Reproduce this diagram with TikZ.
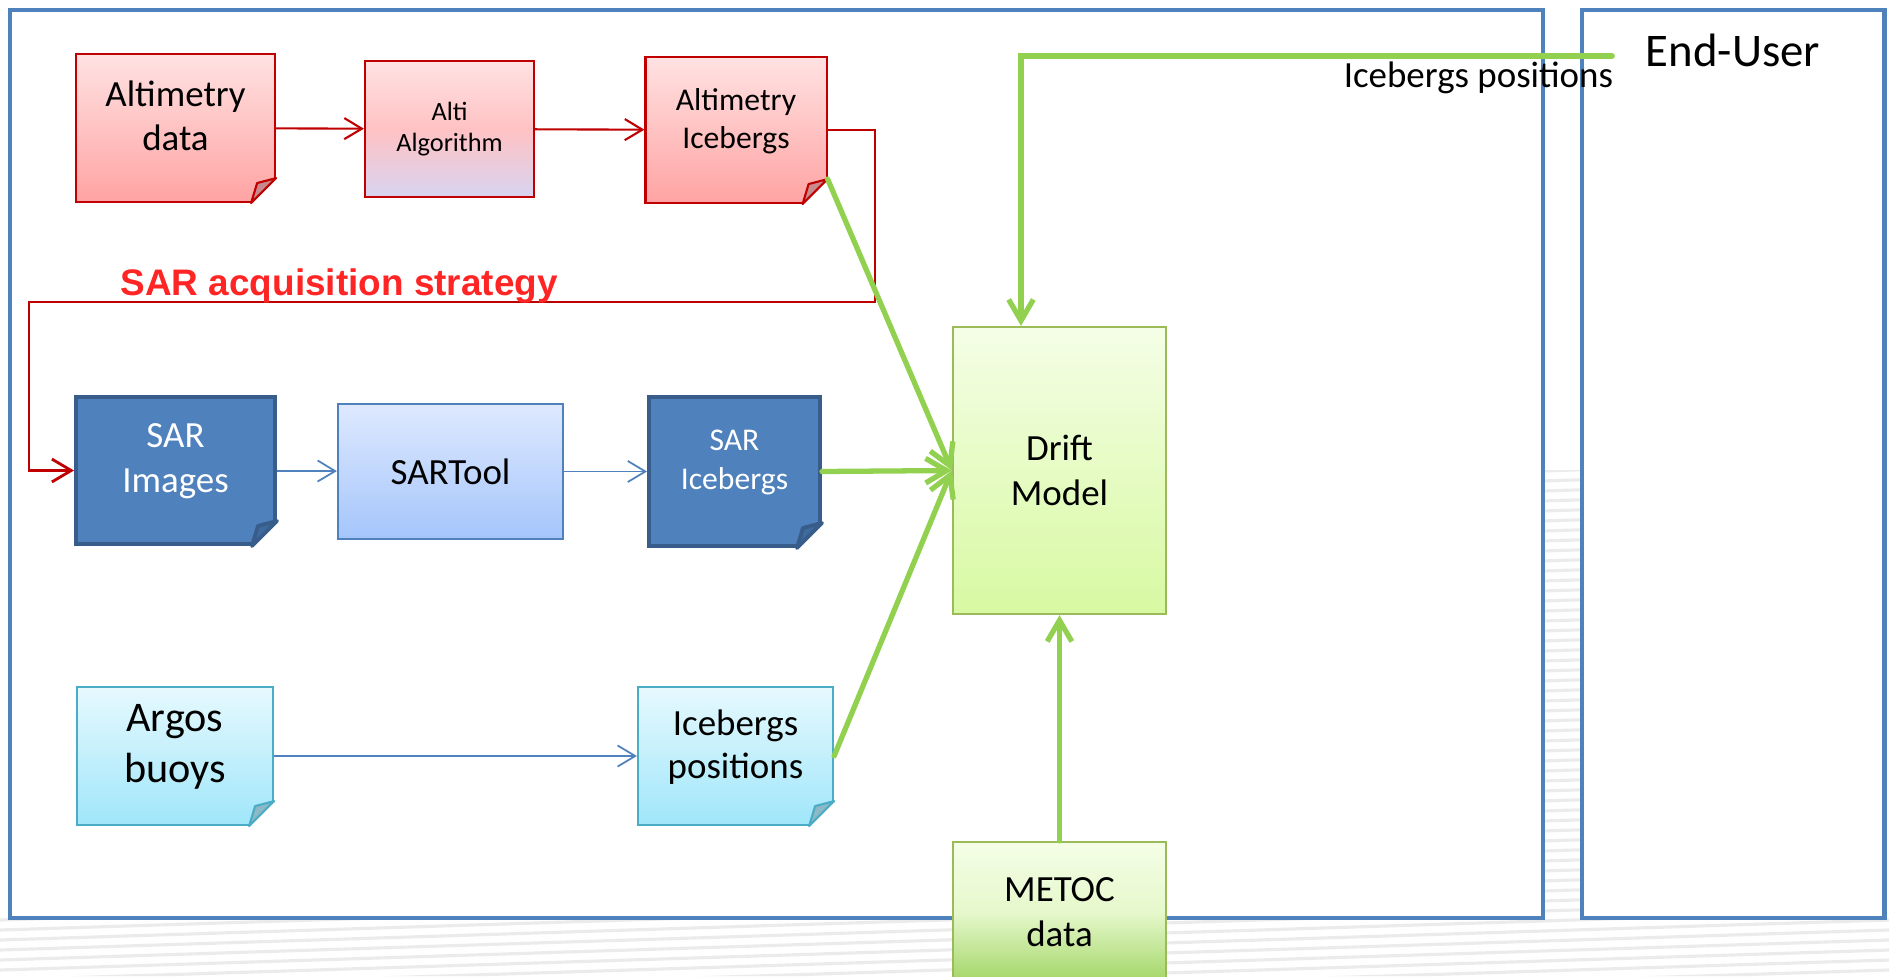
\documentclass[tikz,border=0pt]{standalone}
\usepackage{fontspec}
\setmainfont{Carlito}
\newfontfamily\stratfont{Liberation Sans}
\usetikzlibrary{arrows.meta}

\definecolor{frameblue}{HTML}{4F81BD}
\definecolor{darkred}{HTML}{C00000}
\definecolor{stratred}{HTML}{FF2525}
\definecolor{pinktop}{HTML}{FFE2E2}
\definecolor{pinkbot}{HTML}{FFA3A3}
\definecolor{pinkmid}{HTML}{FFC2C4}
\definecolor{lavender}{HTML}{D8D4F0}
\definecolor{foldred}{HTML}{C98A8E}
\definecolor{sarborder}{HTML}{385D8A}
\definecolor{foldblue}{HTML}{3E6B9E}
\definecolor{tooltop}{HTML}{DEE9FF}
\definecolor{toolbot}{HTML}{A5C5FB}
\definecolor{cyantop}{HTML}{E6F9FE}
\definecolor{cyanbot}{HTML}{A0E6FA}
\definecolor{cyanborder}{HTML}{4BACC6}
\definecolor{foldcyan}{HTML}{8DB9C7}
\definecolor{greenline}{HTML}{92D050}
\definecolor{greenborder}{HTML}{9BBB59}
\definecolor{greentop}{HTML}{F4FEE6}
\definecolor{greenbot}{HTML}{D8F9A2}
\definecolor{metocmid}{HTML}{E6F8CC}
\definecolor{metocbot}{HTML}{A3D667}

% folded corner of a document box
\newcommand{\docfold}[4][0.6pt]{%
  \fill[white] ([xshift=0.05cm,yshift=0.25cm]#2.south east) -- ([yshift=0.25cm]#2.south east)
    -- ([xshift=-0.25cm]#2.south east) -- ([xshift=-0.25cm,yshift=-0.05cm]#2.south east)
    -- ([xshift=0.05cm,yshift=-0.05cm]#2.south east) -- cycle;
  \filldraw[draw=#3, fill=#4, line width=#1, line join=round] ([yshift=0.25cm]#2.south east)
    -- ([xshift=-0.25cm]#2.south east) -- ([xshift=-0.19cm,yshift=0.2cm]#2.south east) -- cycle;
}

\tikzset{
  frame/.style={draw=frameblue, line width=1.4pt},
  stripe/.style={gray!16, line width=0.9pt},
  reddoc/.style={draw=darkred, line width=0.6pt, top color=pinktop, bottom color=pinkbot},
  algobox/.style={draw=darkred, line width=0.6pt, top color=pinktop, bottom color=lavender, middle color=pinkmid, align=center},
  sardoc/.style={draw=sarborder, line width=1.1pt, fill=frameblue},
  toolbox/.style={draw=frameblue, line width=0.6pt, top color=tooltop, bottom color=toolbot},
  cyandoc/.style={draw=cyanborder, line width=0.6pt, top color=cyantop, bottom color=cyanbot},
  greenbox/.style={draw=greenborder, line width=0.6pt, top color=greentop, bottom color=greenbot, align=center, font=\fontsize{10.5}{12.8}\selectfont},
  doctext/.style={align=center, yshift=#1},
  doctext/.default=0.09cm,
  redarrow/.style={draw=darkred, line width=0.6pt, -{Straight Barb[length=5pt,width=6pt]}},
  redline/.style={draw=darkred, line width=0.8pt, -{Straight Barb[length=5.5pt,width=6.5pt]}},
  bluearrow/.style={draw=frameblue, line width=0.5pt, -{Straight Barb[length=5pt,width=6pt]}},
  greenarrow/.style={draw=greenline, line width=1.5pt, line cap=round, -{Straight Barb[length=6pt,width=7pt]}},
  strattext/.style={text=stratred, inner sep=0pt, font=\stratfont\bfseries\fontsize{10.5}{12}\selectfont},
}

\begin{document}
\begin{tikzpicture}[x=0.01cm, y=-0.01cm]
    \useasboundingbox (0,0) rectangle (1889,976);

    % background of the slide
    \begin{scope}
        \clip (0,918) rectangle (1889,976) (1543,470) rectangle (1582,918);
        \foreach \k in {0,...,60}
            \draw[stripe] (0,480+10*\k) -- (1889,420+10*\k);
    \end{scope}

    \draw[frame] (10,10) rectangle (1543,918);
    \draw[frame] (1582,10) rectangle (1884,918);

    % altimetry chain
    \node[reddoc, minimum width=1.99cm, minimum height=1.48cm, label={[doctext=0.125cm, font=\fontsize{10.5}{12.5}\selectfont]center:Altimetry\\data}] (altdata) at (175.5,128) {};
    \node[algobox, minimum width=1.69cm, minimum height=1.36cm, font=\fontsize{7.5}{9}\selectfont] (altalgo) at (449.5,129) {Alti\\Algorithm};
    \node[reddoc, minimum width=1.81cm, minimum height=1.46cm, label={[doctext, font=\fontsize{9}{10.8}\selectfont]center:Altimetry\\Icebergs}] (altice) at (736,130) {};

    % SAR chain
    \node[sardoc, minimum width=1.99cm, minimum height=1.47cm, label={[doctext, text=white, font=\fontsize{10.5}{12.8}\selectfont]center:SAR\\Images}] (sarimg) at (175.5,470.5) {};
    \node[toolbox, minimum width=2.25cm, minimum height=1.35cm, font=\fontsize{10.5}{12.5}\selectfont] (sartool) at (450.5,471.5) {SARTool};
    \node[sardoc, minimum width=1.71cm, minimum height=1.49cm, label={[doctext, text=white, font=\fontsize{9}{10.9}\selectfont]center:SAR\\Icebergs}] (sarice) at (734.5,471.5) {};

    % buoys chain
    \node[cyandoc, minimum width=1.96cm, minimum height=1.38cm, label={[doctext, font=\fontsize{12}{14.5}\selectfont]center:Argos\\buoys}] (argos) at (175,756) {};
    \node[cyandoc, minimum width=1.95cm, minimum height=1.38cm, label={[doctext, font=\fontsize{10.5}{12.3}\selectfont]center:Icebergs\\positions}] (icepos) at (735.5,756) {};

    \node[greenbox, minimum width=2.13cm, minimum height=2.87cm] (drift) at (1059.5,470.5) {Drift\\Model};
    \node[greenbox, bottom color=metocbot, middle color=metocmid, minimum width=2.13cm, minimum height=1.40cm] (metoc) at (1059.5,912) {METOC\\data};

    \node[font=\fontsize{13.3}{16}\selectfont, inner xsep=0.33cm] (enduser) at (1733,50) {End-User};

    \docfold{altdata}{darkred}{foldred}
    \docfold{altice}{darkred}{foldred}
    \docfold[1.1pt]{sarimg}{sarborder}{foldblue}
    \docfold[1.1pt]{sarice}{sarborder}{foldblue}
    \docfold{argos}{cyanborder}{foldcyan}
    \docfold{icepos}{cyanborder}{foldcyan}

    \draw[redarrow] (altdata) -- (altalgo);
    \draw[redarrow] (altalgo) -- (altice);

    \coordinate (turnR) at (875,302);
    \coordinate (turnL) at (29,302);
    \draw[redline] (altice.east) -| (turnR) -- (turnL) |- (sarimg.west);
    \node[strattext, anchor=base west] (strat) at (120,295) {SAR acquisition strategy};

    \draw[bluearrow] (sarimg) -- (sartool);
    \draw[bluearrow] (sartool) -- (sarice);
    \draw[bluearrow] (argos) -- (icepos);

    \draw[greenarrow] ([yshift=0.25cm]altice.south east) -- (drift.west);
    \draw[greenarrow] (sarice.east) -- (drift.west);
    \draw[greenarrow] (icepos.east) -- (drift.west);
    \draw[greenarrow] (metoc) -- (drift);
    \draw[greenarrow] ([yshift=-0.06cm]enduser.west) -| ([xshift=-0.385cm]drift.north)
        node[pos=0, anchor=north east, inner sep=1pt, xshift=0.07cm, font=\fontsize{10.5}{12}\selectfont] {Icebergs positions};
\end{tikzpicture}
\end{document}
